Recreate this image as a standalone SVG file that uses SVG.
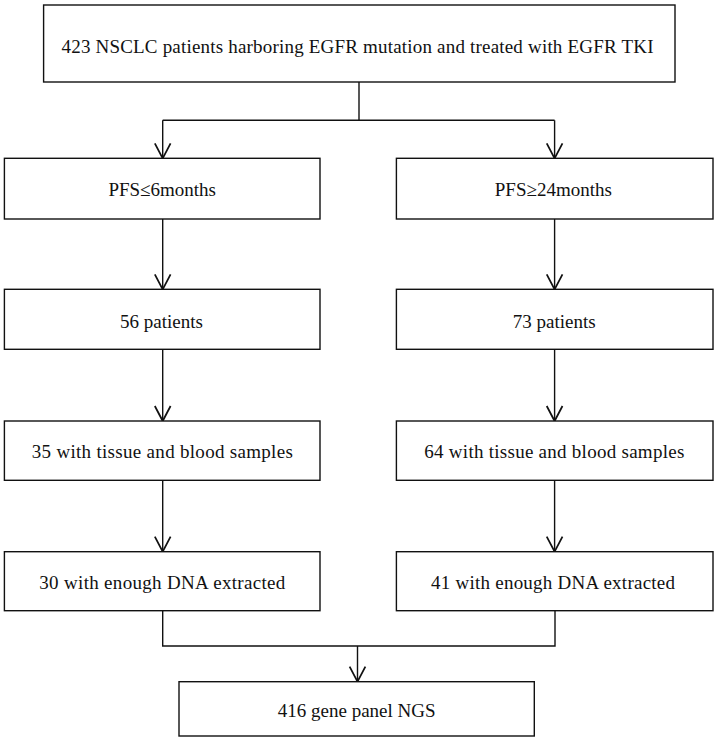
<svg xmlns="http://www.w3.org/2000/svg" width="722" height="741" viewBox="0 0 722 741">
<style>
.box{fill:#fff;stroke:#111;stroke-width:1.4}
.ln{fill:none;stroke:#111;stroke-width:1.4}
.t{font-family:"Liberation Serif","Times New Roman",serif;font-size:19px;fill:#111;text-anchor:middle}
</style>
<defs>
<marker id="arr" markerUnits="userSpaceOnUse" markerWidth="20" markerHeight="20" refX="0" refY="0" orient="auto" viewBox="-14 -8 16 16" overflow="visible">
<path d="M-12,-6.3 L0,0 L-12,6.3" fill="none" stroke="#111" stroke-width="1.4"/>
</marker>
</defs>
<rect width="722" height="741" fill="#fff"/>
<g id="connectors">
<path class="ln" d="M359,82 V120.3"/>
<path class="ln" d="M162.7,120.3 H554.6"/>
<path class="ln" d="M162.7,120.3 V158.3" marker-end="url(#arr)"/>
<path class="ln" d="M554.6,120.3 V158.3" marker-end="url(#arr)"/>
<path class="ln" d="M162.7,219 V289.3" marker-end="url(#arr)"/>
<path class="ln" d="M554.6,219 V289.3" marker-end="url(#arr)"/>
<path class="ln" d="M162.7,349.3 V421" marker-end="url(#arr)"/>
<path class="ln" d="M554.6,349.3 V421" marker-end="url(#arr)"/>
<path class="ln" d="M162.7,480.3 V551.7" marker-end="url(#arr)"/>
<path class="ln" d="M554.6,480.3 V551.7" marker-end="url(#arr)"/>
<path class="ln" d="M162.7,610.7 V646 H555 V610.7"/>
<path class="ln" d="M357.5,646 V681.7" marker-end="url(#arr)"/>
</g>
<g id="n0">
<rect class="box" x="43.6" y="5" width="631.4" height="77"/>
<text class="t" x="357.5" y="53.3" textLength="592" lengthAdjust="spacing">423 NSCLC patients harboring EGFR mutation and treated with EGFR TKI</text>
</g>
<g id="n1">
<rect class="box" x="4.4" y="158.3" width="315.6" height="60.7"/>
<text class="t" x="162.2" y="196">PFS≤6months</text>
</g>
<g id="n2">
<rect class="box" x="396.4" y="158.3" width="316.6" height="60.7"/>
<text class="t" x="553.3" y="196">PFS≥24months</text>
</g>
<g id="n3">
<rect class="box" x="4.4" y="289.3" width="315.6" height="60"/>
<text class="t" x="161.5" y="327.5">56 patients</text>
</g>
<g id="n4">
<rect class="box" x="396.4" y="289.3" width="316.6" height="60"/>
<text class="t" x="554.2" y="327.5">73 patients</text>
</g>
<g id="n5">
<rect class="box" x="4.4" y="421" width="315.6" height="59.3"/>
<text class="t" x="162.3" y="458.3" textLength="261" lengthAdjust="spacing">35 with tissue and blood samples</text>
</g>
<g id="n6">
<rect class="box" x="396.4" y="421" width="316.6" height="59.3"/>
<text class="t" x="554.3" y="458.3" textLength="260" lengthAdjust="spacing">64 with tissue and blood samples</text>
</g>
<g id="n7">
<rect class="box" x="4.4" y="551.7" width="315.6" height="59"/>
<text class="t" x="162.3" y="589" textLength="246" lengthAdjust="spacing">30 with enough DNA extracted</text>
</g>
<g id="n8">
<rect class="box" x="396.4" y="551.7" width="316.6" height="59"/>
<text class="t" x="553" y="589" textLength="244" lengthAdjust="spacing">41 with enough DNA extracted</text>
</g>
<g id="n9">
<rect class="box" x="179" y="681.7" width="355.3" height="54.3"/>
<text class="t" x="356.7" y="717.3">416 gene panel NGS</text>
</g>
</svg>
